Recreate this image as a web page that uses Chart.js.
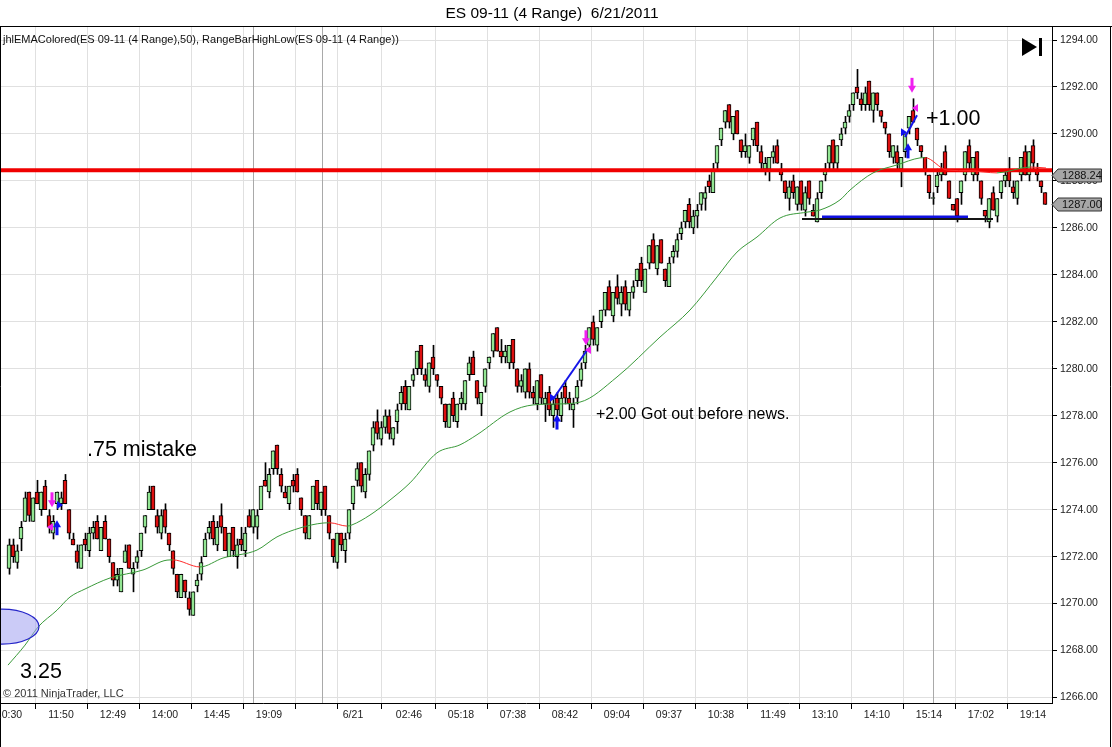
<!DOCTYPE html>
<html><head><meta charset="utf-8">
<script src="https://cdn.jsdelivr.net/npm/chart.js@4.4.1/dist/chart.umd.min.js"></script>
<style>html,body{margin:0;padding:0;background:#fff;overflow:hidden}#wrap{width:1112px;height:747px}</style>
</head><body><div id="wrap"><canvas id="c" width="1112" height="747"></canvas></div>
<script>
// ---- data (bar index = position in these arrays) ----
const openP = [
1271.5,1272.5,1271.75,1272.75,1273.5,1274.75,1273.5,1274.75,1274,1275,
1273.75,1273,1274.25,1274.25,1275.25,1274,1272.75,1272.25,1271.5,1272.75,
1272.25,1273,1273.5,1272.25,1273.5,1272.75,1271.75,1271,1270.5,1271.75,
1272.5,1271.25,1271.75,1272.25,1273.25,1274,1275,1273.75,1273,1274,
1273,1272.25,1271.25,1270.25,1271,1270.25,1269.5,1270.75,1271.25,1272,
1273,1273.5,1272.5,1273.75,1273.25,1272,1273.25,1272,1272.75,1272.25,
1273.75,1273.25,1273.25,1274,1275.25,1274.75,1275.75,1276.75,1275.5,1274.75,
1274.25,1275.25,1275.5,1274.5,1273.75,1272.75,1274,1275.25,1274,1275,
1273.75,1272.75,1271.75,1273,1272.25,1273,1274.25,1275.25,1276,1274.75,
1275.5,1276.75,1277.75,1277,1277.5,1278,1277,1277.75,1278.5,1279.25,
1278.25,1279.5,1280,1281,1279.75,1279.25,1280.5,1279.75,1279.25,1278.5,
1277.5,1278.75,1277.75,1278.5,1278.5,1279.75,1280.5,1279.5,1278.5,1279.25,
1280.25,1280.75,1281.75,1280.75,1280.5,1280.25,1281.25,1280,1279.25,1279,
1280,1279,1278.5,1279.75,1278.5,1279,1278,1278.75,1278,1279.25,
1278.75,1278.25,1278.75,1279.5,1280.25,1281,1282,1281,1282,1282.5,
1283.5,1282.25,1283.5,1282.75,1283.5,1282.5,1283.25,1283.75,1284.5,1283.25,
1284.5,1285.5,1284.25,1285.5,1284.25,1283.5,1284.75,1285,1285.75,1286.25,
1287,1286,1286.5,1287,1287.25,1288,1287.5,1288.75,1289.75,1290.5,
1291.25,1290,1291,1289.75,1289.25,1289,1289.75,1290.5,1289.25,1288.5,
1288.5,1289,1289.5,1288.5,1288,1287.25,1288,1287,1288,1286.75,
1288,1286.75,1286.25,1287.5,1288.25,1288.75,1289.75,1288.75,1289.75,1290.25,
1290.75,1291.25,1292,1291.5,1291.25,1292.25,1291,1291.75,1291,1290.5,
1290,1289,1289.25,1288.5,1289.25,1290.25,1291,1290.25,1289.5,1289,
1288.25,1287.25,1287.75,1288.25,1289.25,1288,1287,1287.25,1287.5,1288.25,
1289.5,1288.25,1289.25,1288,1286.75,1286.25,1287.5,1286.5,1287.5,1288,
1288.5,1287.75,1287.25,1288.25,1289.25,1288.25,1289.5,1288.5,1288,1287.5];
const highP = [
1272.75,1272.75,1272.5,1273.5,1274.75,1274.75,1274.5,1275.25,1274.75,1275.25,
1274,1273.75,1274.75,1274.75,1275.5,1274,1273,1272.5,1272.5,1273,
1273.25,1273.5,1273.75,1273.25,1273.75,1272.75,1271.75,1271.5,1271.5,1272.5,
1272.5,1271.75,1272.25,1273,1273.75,1275,1275,1274,1274,1274.25,
1273,1272.25,1271.25,1271.25,1271,1270.5,1270.5,1271.25,1272,1273,
1273.5,1273.75,1273.5,1274.25,1273.25,1273,1273.25,1272.75,1273.25,1273.25,
1274,1274,1274,1275,1276,1275.75,1276.5,1276.75,1275.75,1275,
1275,1275.5,1275.75,1274.5,1273.75,1273.75,1275,1275.25,1274.75,1275,
1273.75,1272.75,1273,1273,1273,1274,1275,1276,1276,1275.75,
1276.5,1277.75,1278.25,1277.75,1278.25,1278.25,1277.5,1278.5,1279.25,1279.5,
1279.25,1280,1280.75,1281,1280,1280.25,1281,1279.75,1279.25,1278.5,
1278.5,1279,1278.5,1279,1279.5,1280.5,1280.75,1279.5,1279,1280,
1280.5,1281.5,1281.75,1281.25,1281,1281,1281.25,1280,1279.75,1280,
1280.25,1279.25,1279.5,1279.75,1279,1279.25,1278.75,1279,1279,1279.5,
1279,1278.75,1279.5,1280.25,1281,1281.75,1282.25,1281.75,1282.5,1283.25,
1283.75,1283.25,1284,1283.5,1283.75,1283.25,1283.75,1284.25,1284.75,1284.25,
1285.25,1285.75,1285.25,1285.5,1284.25,1284.75,1285.25,1285.75,1286.25,1286.75,
1287.25,1286.75,1287,1287.5,1287.75,1288.25,1288.75,1289.5,1290.25,1291,
1291.25,1290.75,1291,1289.75,1290,1289.5,1290.25,1290.5,1289.5,1289,
1289,1289.5,1289.75,1288.75,1288,1288,1288.25,1287.75,1288,1287.75,
1288,1287,1287.5,1288,1288.75,1289.5,1289.75,1289.5,1290.25,1290.75,
1291.25,1291.75,1292.75,1291.75,1292,1292.25,1291.75,1291.75,1291,1290.5,
1290,1289.5,1289.5,1289,1290,1290.75,1291.5,1290.25,1289.5,1289,
1288.25,1287.5,1288.5,1288.75,1289.5,1288,1287,1287.25,1288,1289.25,
1289.75,1289,1289.25,1288,1286.75,1287.25,1287.75,1287.25,1288,1288.5,
1289,1288,1288,1289,1289.5,1289.25,1289.75,1288.75,1288,1287.5];
const lowP = [
1271.25,1271.75,1271.5,1272.25,1273.5,1273.5,1273.5,1274.25,1273.75,1274,
1273,1272.75,1274,1274,1274.25,1272.75,1272.5,1271.5,1271.5,1272.25,
1272,1272.75,1272.75,1272.25,1272.75,1271.75,1270.75,1270.75,1270.5,1271.75,
1271.5,1270.5,1271.5,1272,1273,1274,1274,1273,1272.75,1273,
1272.25,1271.25,1270.25,1270.25,1270.25,1269.5,1269.5,1270.5,1271,1272,
1272.75,1272.5,1272.25,1273,1272.25,1272,1272,1271.5,1272.25,1272,
1273.25,1273,1272.75,1274,1275,1274.5,1275.5,1275.5,1274.75,1274.5,
1274,1274.75,1274.75,1273.75,1272.75,1272.75,1274,1274,1273.75,1273.75,
1272.75,1271.75,1271.5,1272.25,1271.75,1272.75,1274,1275,1274.75,1274.5,
1275.25,1276.5,1277,1276.75,1277.25,1277,1276.75,1277.25,1278.25,1278.25,
1278.25,1279.25,1279.75,1279.75,1279.25,1279,1279.75,1279.25,1278.5,1277.5,
1277.5,1277.75,1277.5,1278.25,1278.25,1279.5,1279.75,1278.5,1278,1279,
1280,1280.5,1280.75,1280.25,1280.25,1280,1280,1279,1279,1278.75,
1278.75,1278.5,1278.25,1278.5,1277.75,1278,1277.5,1278,1277.75,1278.5,
1278.25,1277.5,1278.5,1279.25,1280,1280.75,1281,1280.75,1281.75,1282.25,
1282.5,1282,1282.75,1282.25,1282.5,1282.25,1283,1283.5,1283.5,1283.25,
1284.25,1284.5,1284,1284.5,1283.5,1283.5,1284.5,1284.75,1285.5,1286,
1286,1285.75,1286,1286.75,1286.75,1287.5,1287.5,1288.5,1289.5,1290.25,
1290.25,1289.75,1290,1289,1289,1288.75,1289.5,1289.25,1288.5,1288.25,
1288,1288.75,1288.75,1288,1287.25,1286.75,1287.25,1286.75,1286.75,1286.5,
1287,1286.5,1286.25,1287.25,1288,1288.5,1288.5,1288.5,1289.5,1290,
1290.5,1291,1291.5,1291,1291,1291,1290.5,1291,1290.5,1290,
1289,1288.75,1288.5,1287.75,1289,1290,1290.5,1289.5,1289,1288.25,
1287.25,1287,1287.5,1288,1288.25,1287.25,1286.75,1286.25,1287,1288,
1288.5,1288,1288,1287,1286.25,1286,1286.75,1286.25,1287.25,1287.75,
1287.75,1287.25,1287,1288,1288.25,1288,1288.5,1288,1287.5,1287];
const closeP = [
1272.5,1272,1272.25,1273.25,1274.5,1273.75,1274.5,1274.25,1274.75,1274,
1273.25,1273.5,1274.75,1274.5,1274.25,1273,1272.5,1271.75,1272.5,1272.5,
1273,1273.25,1272.75,1273.25,1272.75,1272,1271,1271.25,1271.5,1272.25,
1271.5,1271.5,1272,1273,1273.75,1274.75,1274,1273.25,1273.75,1273.25,
1272.5,1271.5,1270.5,1271.25,1270.5,1269.75,1270.5,1271,1271.75,1272.75,
1273.25,1272.75,1273.25,1273.25,1272.25,1273,1272.25,1272.5,1272.5,1273,
1273.25,1274,1273.75,1275,1275,1275.5,1276.5,1275.75,1275,1274.5,
1275,1275,1274.75,1274,1273,1273.75,1275,1274.25,1274.75,1274,
1273,1272,1273,1272.5,1272.75,1274,1275,1275.75,1275,1275.5,
1276.5,1277.5,1277.25,1277.5,1278,1277.25,1277.5,1278.25,1279,1278.5,
1279.25,1279.75,1280.75,1280,1279.5,1280.25,1280,1279.5,1278.75,1277.75,
1278.5,1278,1278.5,1278.75,1279.5,1280.25,1279.75,1278.75,1279,1280,
1280.5,1281.5,1280.75,1280.5,1280.75,1281,1280.25,1279.25,1279.5,1280,
1279,1278.75,1279.5,1278.75,1278.75,1278.25,1278.5,1278.25,1278.75,1278.75,
1278.5,1278.5,1279.25,1280,1280.75,1281.75,1281.25,1281.75,1282.5,1283.25,
1282.5,1283.25,1283,1283.25,1282.75,1283.25,1283.5,1284.25,1283.75,1284.25,
1285.25,1284.5,1285.25,1284.5,1283.75,1284.5,1285,1285.5,1286,1286.75,
1286.25,1286.5,1286.75,1287.5,1287.5,1287.75,1288.5,1289.5,1290.25,1291,
1290.5,1290.75,1290,1289.25,1289.5,1289.5,1290.25,1289.5,1288.75,1288.75,
1289,1289.25,1288.75,1288.25,1287.5,1287.75,1287.5,1287.75,1287,1287.5,
1287.25,1286.5,1287.25,1288,1288.5,1289.5,1288.75,1289.5,1290,1290.5,
1291,1291.75,1291.75,1291.25,1291.75,1291.25,1291.75,1291.25,1290.75,1290.25,
1289.25,1289.5,1288.75,1289,1290,1290.75,1290.5,1289.75,1289.25,1288.5,
1287.5,1287.25,1288.25,1288.5,1288.25,1287.25,1286.75,1286.5,1288,1289.25,
1288.75,1289,1288.25,1287.25,1286.5,1287.25,1286.75,1287.25,1288,1288.25,
1288,1287.5,1288,1289,1288.25,1289.25,1288.75,1288.25,1287.75,1287];

// 50-period EMA (bar index, price)
const emaIndex = [-0.25,4,7.25,12,15.25,19,25.25,33.5,39.5,41,47.75,53.5,62,67,72.75,78.5,80.25,84.5,85.75,90.25,95.25,100.25,107,112.75,117,125.25,131,137,142.75,152,162.75,170.25,177,182,187,192.75,199.5,202.75,207.75,210.25,216,222,227.75,229,234.5,240.25,247,255.25,259.25];
const emaValue = [1267.38,1268.23,1269.0,1269.72,1270.28,1270.62,1271.09,1271.43,1271.85,1271.86,1271.56,1271.94,1272.28,1272.84,1273.22,1273.43,1273.44,1273.30,1273.35,1273.77,1274.41,1275.14,1276.42,1276.76,1277.19,1278.16,1278.46,1278.50,1278.58,1279.65,1281.35,1282.5,1283.91,1284.97,1285.61,1286.42,1286.67,1286.76,1287.19,1287.61,1288.34,1288.68,1288.98,1288.99,1288.46,1288.43,1288.34,1288.59,1288.55];

// axis ticks
const tickIndex = [0,13,26,39,52,65,78,86,100,113,126,139,152,165,178,191,204,217,230,243,256];
const tickText  = ['10:30','11:50','12:49','14:00','14:45','19:09','','6/21','02:46','05:18','07:38','08:42','09:04','09:37','10:38','11:49','13:10','14:10','15:14','17:02','19:14'];
const priceTicks = [1266,1268,1270,1272,1274,1276,1278,1280,1282,1284,1286,1288,1290,1292,1294];
const sessionBreaks = [61,78.25,231];

// drawing objects (bar index, price)
const levelLine   = {from:-2.25, to:260.75, price:1288.45};
const supportLine = {from:198.25, to:246, price:1286.38};
const blueLine    = {from:203.25, to:239.75, price:1286.46};
const tradeLineA  = [[136,1278.7],[144.75,1280.85]];
const tradeLineB  = [[224,1289.87],[227,1290.8]];
const sellArrows  = [[10.75,1274.1],[144.25,1281.0],[225.75,1291.75]];
const buyArrows   = [[12,1273.55],[137,1278.05],[224.75,1289.6]];
const exitMarks   = [[10.25,1273.26],[144.75,1280.8],[226.5,1291.1]];
const entryMarks  = [[12.75,1274.2],[136,1278.76],[223.75,1290.07]];
const notes = [
  {text:'.75 mistake', i:19.5, p:1276.54, size:21.5},
  {text:'3.25', i:2.75, p:1267.08, size:21.5},
  {text:'+2.00 Got out before news.', i:146.75, p:1278.03, size:16},
  {text:'+1.00', i:229.25, p:1290.64, size:21.5}
];
const markerValues = [1288.24, 1287.00];
const ellipseAt = {i:-1.75, p:1269.02};

// ---- chart ----
const F = "'Liberation Sans', Arial, sans-serif";
const GREEN = '#93e693', RED = '#dd1010';
const bodies = openP.map((o,i)=>{
  const lo = Math.min(o, closeP[i]), hi = Math.max(o, closeP[i]);
  return {x:i, y:[lo, hi === lo ? lo + 0.04 : hi]};
});
const bodyColors = openP.map((o,i)=> closeP[i] < o ? RED : GREEN);
const wicks = lowP.map((l,i)=>({x:i, y:[l, highP[i]]}));
const ema = emaIndex.map((x,k)=>({x, y:emaValue[k]}));
const seg = (o)=>[{x:o.from,y:o.price},{x:o.to,y:o.price}];
const pts = (a)=>a.map(v=>({x:v[0],y:v[1]}));

const lineDs = (data, color, width, order) => ({type:'line', data, borderColor:color, borderWidth:width, pointRadius:0, order, fill:false});

const overlay = {
  id:'overlay',
  beforeDraw(chart){
    const c = chart.ctx; c.save(); c.fillStyle='#fff'; c.fillRect(0,0,chart.width,chart.height); c.restore();
  },
  beforeDatasetsDraw(chart){
    const {ctx, chartArea:a, scales:{x}} = chart;
    ctx.save(); ctx.strokeStyle='#a9a9a9'; ctx.lineWidth=1;
    sessionBreaks.forEach(b=>{ const X=Math.floor(x.getPixelForValue(b))+0.5; ctx.beginPath(); ctx.moveTo(X,a.top); ctx.lineTo(X,a.bottom); ctx.stroke(); });
    ctx.restore();
  },
  afterDatasetsDraw(chart){
    const {ctx, chartArea:a, scales:{x,y}} = chart;
    ctx.save();
    ctx.beginPath(); ctx.rect(a.left,a.top,a.right-a.left,a.bottom-a.top); ctx.clip();
    // ellipse
    ctx.beginPath();
    ctx.ellipse(x.getPixelForValue(ellipseAt.i), y.getPixelForValue(ellipseAt.p), 37, 17.5, 0, 0, Math.PI*2);
    ctx.fillStyle='rgba(160,160,240,0.55)'; ctx.fill();
    ctx.strokeStyle='#2424c8'; ctx.lineWidth=1.2; ctx.stroke();
    // arrows
    const down=(X,Y,col)=>{ ctx.fillStyle=col; ctx.fillRect(X-1.5,Y-15,3,9); ctx.beginPath(); ctx.moveTo(X-4,Y-7); ctx.lineTo(X+4,Y-7); ctx.lineTo(X,Y); ctx.closePath(); ctx.fill(); };
    const up=(X,Y,col)=>{ ctx.fillStyle=col; ctx.fillRect(X-1.5,Y+6,3,9); ctx.beginPath(); ctx.moveTo(X-4,Y+7); ctx.lineTo(X+4,Y+7); ctx.lineTo(X,Y); ctx.closePath(); ctx.fill(); };
    sellArrows.forEach(v=>down(x.getPixelForValue(v[0]), y.getPixelForValue(v[1]), '#f020f0'));
    buyArrows.forEach(v=>up(x.getPixelForValue(v[0]), y.getPixelForValue(v[1]), '#1010f0'));
    const tri=(X,Y,col,dir)=>{ ctx.fillStyle=col; ctx.beginPath(); ctx.moveTo(X-3*dir,Y-4); ctx.lineTo(X+3*dir,Y); ctx.lineTo(X-3*dir,Y+4); ctx.closePath(); ctx.fill(); };
    entryMarks.forEach(v=>tri(x.getPixelForValue(v[0]), y.getPixelForValue(v[1]), '#1010f0', 1));
    exitMarks.forEach(v=>tri(x.getPixelForValue(v[0]), y.getPixelForValue(v[1]), '#f020f0', -1));
    // notes
    ctx.fillStyle='#000'; ctx.textBaseline='middle'; ctx.textAlign='left';
    notes.forEach(n=>{ ctx.font=`${n.size}px ${F}`; ctx.fillText(n.text, x.getPixelForValue(n.i), y.getPixelForValue(n.p)); });
    ctx.restore();
  },
  afterDraw(chart){
    const {ctx, chartArea:a, scales:{x,y}} = chart;
    ctx.save();
    // frame
    ctx.strokeStyle='#000'; ctx.lineWidth=1;
    ctx.beginPath(); ctx.moveTo(0,26.5); ctx.lineTo(1112,26.5); ctx.stroke();
    ctx.beginPath(); ctx.moveTo(0.5,26.5); ctx.lineTo(0.5,747); ctx.stroke();
    ctx.beginPath(); ctx.moveTo(1110.5,26.5); ctx.lineTo(1110.5,747); ctx.stroke();
    // title & legend
    ctx.fillStyle='#000'; ctx.textBaseline='middle';
    ctx.textAlign='center'; ctx.font=`15.5px ${F}`;
    ctx.fillText('ES 09-11 (4 Range)  6/21/2011', 552, 14);
    ctx.textAlign='left'; ctx.font=`11px ${F}`; ctx.fillStyle='#111';
    ctx.fillText('jhlEMAColored(ES 09-11 (4 Range),50), RangeBarHighLow(ES 09-11 (4 Range))', 3, 40);
    ctx.fillStyle='#333';
    ctx.fillText('\u00A9 2011 NinjaTrader, LLC', 3, 694);
    // x labels
    ctx.textAlign='center'; ctx.font=`10.5px ${F}`; ctx.fillStyle='#222';
    tickIndex.forEach((t,k)=>{ if(tickText[k]) ctx.fillText(tickText[k], x.getPixelForValue(t), 715); });
    // price markers
    markerValues.forEach(v=>{
      const Y = Math.round(y.getPixelForValue(v))+0.5;
      ctx.beginPath(); ctx.moveTo(a.right,Y); ctx.lineTo(a.right+6,Y-6.5); ctx.lineTo(1101.5,Y-6.5); ctx.lineTo(1101.5,Y+6.5); ctx.lineTo(a.right+6,Y+6.5); ctx.closePath();
      ctx.fillStyle='#a6a6a6'; ctx.fill(); ctx.strokeStyle='#333'; ctx.lineWidth=1; ctx.stroke();
      ctx.fillStyle='#111'; ctx.textAlign='left'; ctx.font=`11px ${F}`;
      ctx.fillText(v.toFixed(2), a.right+10, Y+0.5);
    });
    // go-to-end icon
    ctx.fillStyle='#000';
    ctx.beginPath(); ctx.moveTo(1022,38); ctx.lineTo(1037,47); ctx.lineTo(1022,56); ctx.closePath(); ctx.fill();
    ctx.fillRect(1039,38,3,18);
    ctx.restore();
  }
};

new Chart(document.getElementById('c'), {
  data:{
    datasets:[
      Object.assign(lineDs(ema,'#3a9a3a',1,0), {cubicInterpolationMode:'monotone',
        segment:{borderColor: c => c.p1.parsed.y < c.p0.parsed.y ? '#ff2a2a' : '#3a9a3a'}}),
      lineDs(seg(levelLine),'#f00000',4,0),
      lineDs(seg(supportLine),'#151515',2,0),
      lineDs(seg(blueLine),'#1010e0',3,0),
      lineDs(pts(tradeLineA),'#1515e8',2,0),
      lineDs(pts(tradeLineB),'#1515e8',2,0),
      {type:'bar', data:bodies, backgroundColor:bodyColors, borderColor:'#000', borderWidth:1, borderSkipped:false, barThickness:4, grouped:false, order:1},
      {type:'bar', data:wicks, xAxisID:'xw', backgroundColor:'#000', borderWidth:0, barThickness:1, grouped:false, order:2}
    ]
  },
  options:{
    responsive:false, animation:false, devicePixelRatio:1, events:[],
    layout:{padding:{top:27,left:0,right:0,bottom:0}},
    plugins:{legend:{display:false}, tooltip:{enabled:false}, title:{display:false}},
    scales:{
      x:{type:'linear', min:-2.25, max:260.75, offset:false,
        afterBuildTicks:s=>{ s.ticks = tickIndex.map(v=>({value:v})); },
        ticks:{display:false},
        grid:{color:'#e0e0e0', tickColor:'#000', tickLength:6, drawTicks:true},
        border:{display:true, color:'#000', width:1},
        afterFit:s=>{ s.height = 44; }},
      xw:{type:'linear', display:false, min:-2.375, max:260.625, offset:false},
      y:{type:'linear', position:'right', min:1265.766, max:1294.554,
        afterBuildTicks:s=>{ s.ticks = priceTicks.map(v=>({value:v})); },
        ticks:{callback:v=>Number(v).toFixed(2), font:{size:10.5, family:F}, color:'#222', padding:3, autoSkip:false},
        grid:{color:'#e0e0e0', tickColor:'#000', tickLength:5},
        border:{display:true, color:'#000', width:1},
        afterFit:s=>{ s.width = 60; }}
    }
  },
  plugins:[overlay]
});
</script>
</body></html>
